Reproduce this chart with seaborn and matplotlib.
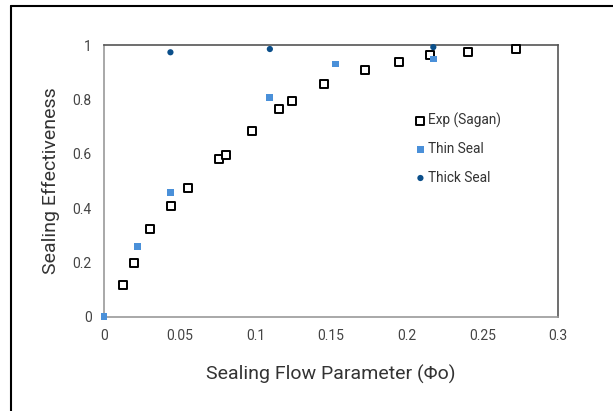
import matplotlib
matplotlib.use("Agg")
import matplotlib.pyplot as plt
from matplotlib.lines import Line2D
import seaborn as sns
import pandas as pd

# Experimental data (Sagan)
exp_phi = [0.0128, 0.0196, 0.0306, 0.0445, 0.0555, 0.0758, 0.0804, 0.0976,
           0.1159, 0.124, 0.1455, 0.1724, 0.1951, 0.2151, 0.2407, 0.2724]
exp_eff = [0.115, 0.196, 0.323, 0.408, 0.473, 0.580, 0.597, 0.683,
           0.767, 0.795, 0.857, 0.910, 0.938, 0.965, 0.975, 0.987]

# Thin seal simulations
thin_phi = [0.0, 0.0221, 0.0439, 0.1094, 0.1530, 0.2176]
thin_eff = [0.0, 0.259, 0.458, 0.809, 0.931, 0.950]

# Thick seal simulations
thick_phi = [0.0439, 0.1096, 0.2176]
thick_eff = [0.975, 0.987, 0.994]

x_ticks = [0, 0.05, 0.1, 0.15, 0.2, 0.25, 0.3]
x_tick_labels = ["0", "0.05", "0.1", "0.15", "0.2", "0.25", "0.3"]
y_ticks = [0, 0.2, 0.4, 0.6, 0.8, 1.0]
y_tick_labels = ["0", "0.2", "0.4", "0.6", "0.8", "1"]

sns.set_style("white")
plt.rcParams["font.family"] = ["Roboto", "DejaVu Sans"]

fig = plt.figure(figsize=(6.13, 4.11), dpi=100)
ax = fig.add_axes([104 / 613, 1 - 316.5 / 411, 454 / 613, 271 / 411])

exp_df = pd.DataFrame({"phi": exp_phi, "eff": exp_eff})
thin_df = pd.DataFrame({"phi": thin_phi, "eff": thin_eff})
thick_df = pd.DataFrame({"phi": thick_phi, "eff": thick_eff})

sns.scatterplot(data=exp_df, x="phi", y="eff", ax=ax, marker="s", s=32,
                facecolor="white", edgecolor="black", linewidth=1.4,
                label="Exp (Sagan)", zorder=3, clip_on=False)
sns.scatterplot(data=thin_df, x="phi", y="eff", ax=ax, marker="s", s=22,
                color="#4a90d9", edgecolor="none", linewidth=0,
                label="Thin Seal", zorder=4, clip_on=False)
sns.scatterplot(data=thick_df, x="phi", y="eff", ax=ax, marker="o", s=20,
                color="#0b4f8a", edgecolor="none", linewidth=0,
                label="Thick Seal", zorder=5, clip_on=False)

ax.set_xlim(0, 0.3)
ax.set_ylim(0, 1)
ax.set_xticks(x_ticks)
ax.set_xticklabels(x_tick_labels)
ax.set_yticks(y_ticks)
ax.set_yticklabels(y_tick_labels)
ax.tick_params(axis="both", length=0, labelsize=10, colors="#444444")
ax.tick_params(axis="x", pad=9)
ax.tick_params(axis="y", pad=9)

ax.set_xlabel("Sealing Flow Parameter (Φo)", fontsize=14, color="#333333", labelpad=16)
ax.set_ylabel("Sealing Effectiveness", fontsize=14, color="#333333", labelpad=9)

for side in ["left", "bottom"]:
    ax.spines[side].set_color("#9a9a9a")
    ax.spines[side].set_linewidth(1.2)
for side in ["top", "right"]:
    ax.spines[side].set_color("#555555")
    ax.spines[side].set_linewidth(1.2)

leg = ax.legend(loc="center left", bbox_to_anchor=(0.655, 0.62), frameon=False,
                fontsize=9.8, labelspacing=1.06, handletextpad=0.05, handlelength=1.0,
                labelcolor="#333333")

# Outer frame lines along the top and left edges
fig.add_artist(Line2D([11 / 613, 1.0], [1 - 6.5 / 411, 1 - 6.5 / 411],
                      transform=fig.transFigure, color="black", linewidth=1.5))
fig.add_artist(Line2D([11 / 613, 11 / 613], [0.0, 1 - 6.5 / 411],
                      transform=fig.transFigure, color="black", linewidth=1.5))

fig.savefig("out.png", dpi=100)
